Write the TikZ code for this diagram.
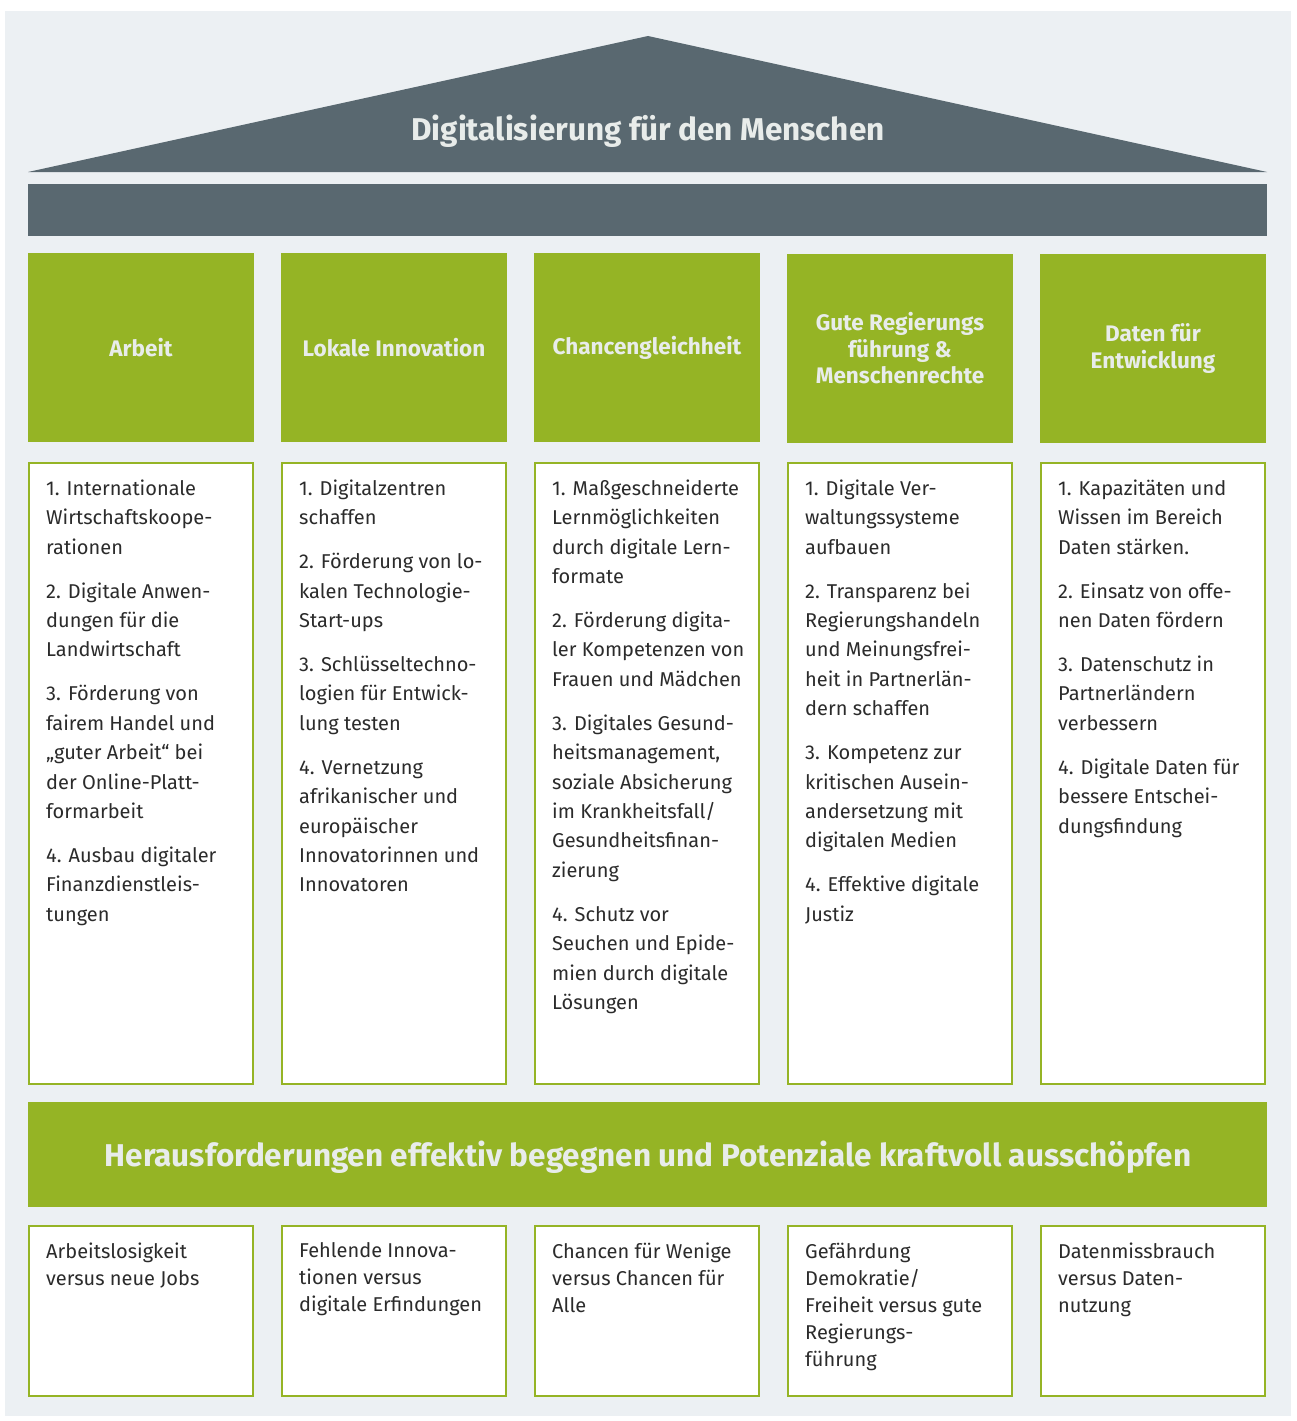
\documentclass[tikz,border=0pt]{standalone}
\usepackage{fontspec}
\setmainfont{Fira Sans}
\usetikzlibrary{positioning}
\definecolor{roofgrey}{HTML}{596870}
\definecolor{pillargreen}{HTML}{95B425}
\definecolor{housebg}{HTML}{ECF0F3}
\definecolor{headtext}{HTML}{E8ECEA}
\definecolor{bodytext}{HTML}{2B2B2B}

\begin{document}
\begin{tikzpicture}[x=1pt,y=-1pt]
 \tikzset{
  head/.style={fill=pillargreen,minimum width=226pt,minimum height=189pt,inner sep=0pt,
    text=headtext,align=center,font=\bfseries\fontsize{22.5}{26.5}\selectfont},
  goalbox/.style={draw=pillargreen,line width=2pt,fill=white,minimum width=224pt,
    minimum height=621pt,inner sep=0pt},
  riskbox/.style={draw=pillargreen,line width=2pt,fill=white,minimum width=224pt,
    minimum height=170pt,inner sep=0pt},
  goaltext/.style={anchor=north west,inner sep=0pt,align=left,text=bodytext,
    font=\fontsize{20}{29.4}\selectfont},
  risktext/.style={anchor=north west,inner sep=0pt,align=left,text=bodytext,
    font=\fontsize{20}{27}\selectfont}
 }
 \useasboundingbox[fill=white] (0,0) rectangle (1296,1421);
 \fill[housebg] (5,11) rectangle (1291,1416);

 % roof and beam
 \fill[roofgrey] (28,172) -- (648,36) -- (1267,172) -- cycle;
 \node[text=headtext,font=\bfseries\fontsize{31.5}{36}\selectfont] (title) at (648,131) {Digitalisierung für den Menschen};
 \fill[roofgrey] (28,184) rectangle (1267,236);

 % pillar heads
 \node[head] (h1) at (141,347.5) {Arbeit};
 \node[head] (h2) at (394,347.5) {Lokale Innovation};
 \node[head] (h3) at (647,347.5) {Chancengleichheit};
 \node[head] (h4) at (900,348.5) {Gute Regierungs\\führung \&\\Menschenrechte};
 \node[head] (h5) at (1153,348.5) {Daten für\\Entwicklung};

 % pillar bodies
 \node[goalbox] (g1) at (141,773) {};
 \node[goalbox] (g2) at (394,773) {};
 \node[goalbox] (g3) at (647,773) {};
 \node[goalbox] (g4) at (900,773) {};
 \node[goalbox] (g5) at (1153,773) {};

 \node[goaltext] (t1) at (46,479.5) {1. Internationale\\Wirtschaftskoope-\\rationen\\[14.6pt]
  2. Digitale Anwen-\\dungen für die\\Landwirtschaft\\[14.6pt]
  3. Förderung von\\fairem Handel und\\„guter Arbeit“ bei\\der Online-Platt-\\formarbeit\\[14.6pt]
  4. Ausbau digitaler\\Finanzdienstleis-\\tungen};
 \node[goaltext] (t2) at (299,479.5) {1. Digitalzentren\\schaffen\\[14.6pt]
  2. Förderung von lo-\\kalen Technologie-\\Start-ups\\[14.6pt]
  3. Schlüsseltechno-\\logien für Entwick-\\lung testen\\[14.6pt]
  4. Vernetzung\\afrikanischer und\\europäischer\\Innovatorinnen und\\Innovatoren};
 \node[goaltext] (t3) at (552,479.5) {1. Maßgeschneiderte\\Lernmöglichkeiten\\durch digitale Lern-\\formate\\[14.6pt]
  2. Förderung digita-\\ler Kompetenzen von\\Frauen und Mädchen\\[14.6pt]
  3. Digitales Gesund-\\heitsmanagement,\\soziale Absicherung\\im Krankheitsfall/\\Gesundheitsfinan-\\zierung\\[14.6pt]
  4. Schutz vor\\Seuchen und Epide-\\mien durch digitale\\Lösungen};
 \node[goaltext] (t4) at (805,479.5) {1. Digitale Ver-\\waltungssysteme\\aufbauen\\[14.6pt]
  2. Transparenz bei\\Regierungshandeln\\und Meinungsfrei-\\heit in Partnerlän-\\dern schaffen\\[14.6pt]
  3. Kompetenz zur\\kritischen Ausein-\\andersetzung mit\\digitalen Medien\\[14.6pt]
  4. Effektive digitale\\Justiz};
 \node[goaltext] (t5) at (1058,479.5) {1. Kapazitäten und\\Wissen im Bereich\\Daten stärken.\\[14.6pt]
  2. Einsatz von offe-\\nen Daten fördern\\[14.6pt]
  3. Datenschutz in\\Partnerländern\\verbessern\\[14.6pt]
  4. Digitale Daten für\\bessere Entschei-\\dungsfindung};

 % base band
 \fill[pillargreen] (28,1102) rectangle (1267,1207);
 \node[text=headtext,font=\bfseries\fontsize{31.5}{36}\selectfont] (band) at (648,1157) {Herausforderungen effektiv begegnen und Potenziale kraftvoll ausschöpfen};

 % challenges
 \node[riskbox] (r1) at (141,1311) {};
 \node[riskbox] (r2) at (394,1311) {};
 \node[riskbox] (r3) at (647,1311) {};
 \node[riskbox] (r4) at (900,1311) {};
 \node[riskbox] (r5) at (1153,1311) {};

 \node[risktext] (s1) at (46,1242.5) {Arbeitslosigkeit\\versus neue Jobs};
 \node[risktext] (s2) at (299,1242.5) {Fehlende Innova-\\tionen versus\\digitale Erfindungen};
 \node[risktext] (s3) at (552,1242.5) {Chancen für Wenige\\versus Chancen für\\Alle};
 \node[risktext] (s4) at (805,1242.5) {Gefährdung\\Demokratie/\\Freiheit versus gute\\Regierungs-\\führung};
 \node[risktext] (s5) at (1058,1242.5) {Datenmissbrauch\\versus Daten-\\nutzung};
\end{tikzpicture}
\end{document}
